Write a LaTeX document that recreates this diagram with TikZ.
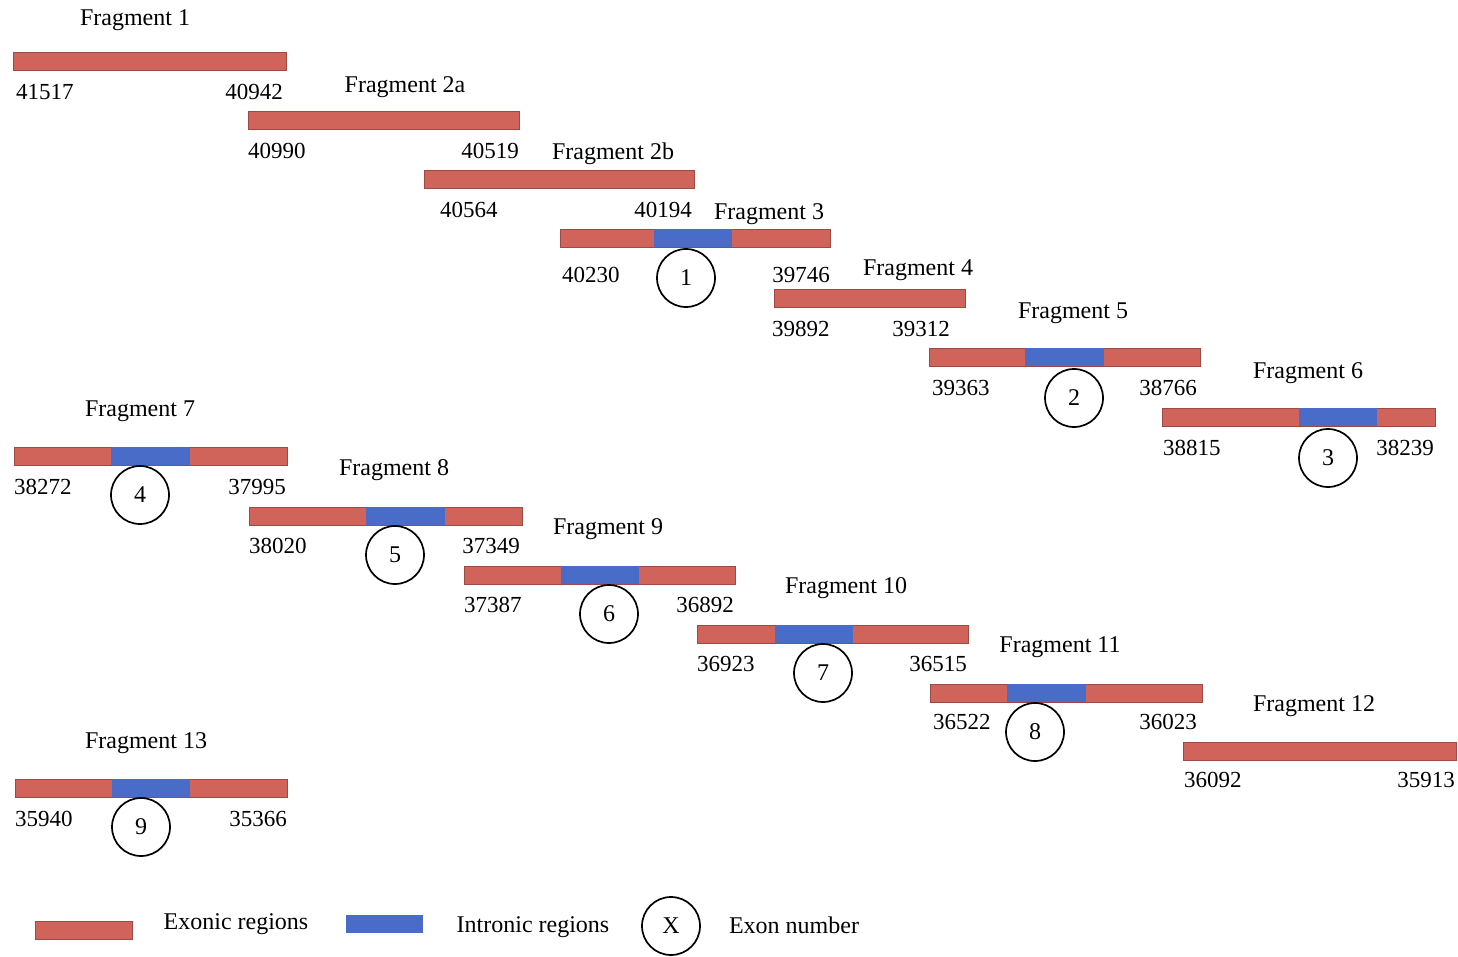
\documentclass[tikz,border=0pt]{standalone}
\usepackage{fontspec}
\setmainfont{Liberation Serif}
\usepackage{xcolor}
\definecolor{exonred}{RGB}{208,100,90}
\definecolor{intronblue}{RGB}{72,108,200}
\tikzset{
  exon/.style={
    draw=exonred!75!black,
    line width=0.5pt,
    fill=exonred,
    minimum height=18,
    inner sep=0,
    anchor=north west
  },
  intron/.style={
    fill=intronblue,
    minimum height=18,
    inner sep=0,
    anchor=north west
  },
  exnum/.style={
    draw,
    circle,
    line width=1.7,
    minimum size=58,
    inner sep=0
  },
  fraglabel/.style={
    yshift=-2pt
  },
  basepos/.style={
    font=\fontsize{23}{28}\selectfont
  },
  every picture/.style={
    font=\fontsize{24}{28}\selectfont
  }
}
\begin{document}
\begin{tikzpicture}[x=1pt,y=-1pt,every node/.append style={inner sep=0}]
        \useasboundingbox (0,0) rectangle (1458,957);
        % fragment 1
        \node[exon,minimum width=273] (f1) at (13,52) {};
        \node[fraglabel] (f1l) at (135,18) {Fragment 1};
        \node[basepos,anchor=west] (f1a) at (16,92) {41517};
        \node[basepos,anchor=east] (f1b) at (283,92) {40942};
        % fragment 2a
        \node[exon,minimum width=271] (f2a) at (248,111) {};
        \node[fraglabel] (f2al) at (405,85) {Fragment 2a};
        \node[basepos,anchor=west] (f2aa) at (248,151) {40990};
        \node[basepos,anchor=east] (f2ab) at (519,151) {40519};
        % fragment 2b
        \node[exon,minimum width=270] (f2b) at (424,170) {};
        \node[fraglabel] (f2bl) at (613,152) {Fragment 2b};
        \node[basepos,anchor=west] (f2ba) at (440,210) {40564};
        \node[basepos,anchor=east] (f2bb) at (692,210) {40194};
        % fragment 3
        \node[exon,minimum width=270] (f3) at (560,229) {};
        \node[intron,minimum width=78] (f3i) at (654,229) {};
        \node[fraglabel] (f3l) at (769,212) {Fragment 3};
        \node[basepos,anchor=west] (f3a) at (562,275) {40230};
        \node[basepos,anchor=east] (f3b) at (830,275) {39746};
        \node[exnum] (c1) at (686,278) {1};
        % fragment 4
        \node[exon,minimum width=191] (f4) at (774,289) {};
        \node[fraglabel] (f4l) at (918,268) {Fragment 4};
        \node[basepos,anchor=west] (f4a) at (772,329) {39892};
        \node[basepos,anchor=east] (f4b) at (950,329) {39312};
        % fragment 5
        \node[exon,minimum width=271] (f5) at (929,348) {};
        \node[intron,minimum width=79] (f5i) at (1025,348) {};
        \node[fraglabel] (f5l) at (1073,311) {Fragment 5};
        \node[basepos,anchor=west] (f5a) at (932,388) {39363};
        \node[basepos,anchor=east] (f5b) at (1197,388) {38766};
        \node[exnum] (c2) at (1074,398) {2};
        % fragment 6
        \node[exon,minimum width=273] (f6) at (1162,408) {};
        \node[intron,minimum width=78] (f6i) at (1299,408) {};
        \node[fraglabel] (f6l) at (1308,371) {Fragment 6};
        \node[basepos,anchor=west] (f6a) at (1163,448) {38815};
        \node[basepos,anchor=east] (f6b) at (1434,448) {38239};
        \node[exnum] (c3) at (1328,458) {3};
        % fragment 7
        \node[exon,minimum width=273] (f7) at (14,447) {};
        \node[intron,minimum width=79] (f7i) at (111,447) {};
        \node[fraglabel] (f7l) at (140,409) {Fragment 7};
        \node[basepos,anchor=west] (f7a) at (14,487) {38272};
        \node[basepos,anchor=east] (f7b) at (286,487) {37995};
        \node[exnum] (c4) at (140,495) {4};
        % fragment 8
        \node[exon,minimum width=273] (f8) at (249,507) {};
        \node[intron,minimum width=79] (f8i) at (366,507) {};
        \node[fraglabel] (f8l) at (394,468) {Fragment 8};
        \node[basepos,anchor=west] (f8a) at (249,546) {38020};
        \node[basepos,anchor=east] (f8b) at (520,546) {37349};
        \node[exnum] (c5) at (395,555) {5};
        % fragment 9
        \node[exon,minimum width=271] (f9) at (464,566) {};
        \node[intron,minimum width=78] (f9i) at (561,566) {};
        \node[fraglabel] (f9l) at (608,527) {Fragment 9};
        \node[basepos,anchor=west] (f9a) at (464,605) {37387};
        \node[basepos,anchor=east] (f9b) at (734,605) {36892};
        \node[exnum] (c6) at (609,614) {6};
        % fragment 10
        \node[exon,minimum width=271] (f10) at (697,625) {};
        \node[intron,minimum width=78] (f10i) at (775,625) {};
        \node[fraglabel] (f10l) at (846,586) {Fragment 10};
        \node[basepos,anchor=west] (f10a) at (697,664) {36923};
        \node[basepos,anchor=east] (f10b) at (967,664) {36515};
        \node[exnum] (c7) at (823,673) {7};
        % fragment 11
        \node[exon,minimum width=272] (f11) at (930,684) {};
        \node[intron,minimum width=79] (f11i) at (1007,684) {};
        \node[fraglabel] (f11l) at (1060,645) {Fragment 11};
        \node[basepos,anchor=west] (f11a) at (933,722) {36522};
        \node[basepos,anchor=east] (f11b) at (1197,722) {36023};
        \node[exnum] (c8) at (1035,732) {8};
        % fragment 12
        \node[exon,minimum width=273] (f12) at (1183,742) {};
        \node[fraglabel] (f12l) at (1314,704) {Fragment 12};
        \node[basepos,anchor=west] (f12a) at (1184,780) {36092};
        \node[basepos,anchor=east] (f12b) at (1455,780) {35913};
        % fragment 13
        \node[exon,minimum width=272] (f13) at (15,779) {};
        \node[intron,minimum width=78] (f13i) at (112,779) {};
        \node[fraglabel] (f13l) at (146,741) {Fragment 13};
        \node[basepos,anchor=west] (f13a) at (15,819) {35940};
        \node[basepos,anchor=east] (f13b) at (287,819) {35366};
        \node[exnum] (c9) at (141,827) {9};
        % legend
        \node[exon,minimum width=97] (lex) at (35,921) {};
        \node (lext) at (236,924) {Exonic regions};
        \node[intron,minimum width=77] (lin) at (346,915) {};
        \node (lint) at (533,927) {Intronic regions};
        \node[exnum] (lnum) at (671,926) {X};
        \node (lnumt) at (794,925) {Exon number};
    \end{tikzpicture}
\end{document}
